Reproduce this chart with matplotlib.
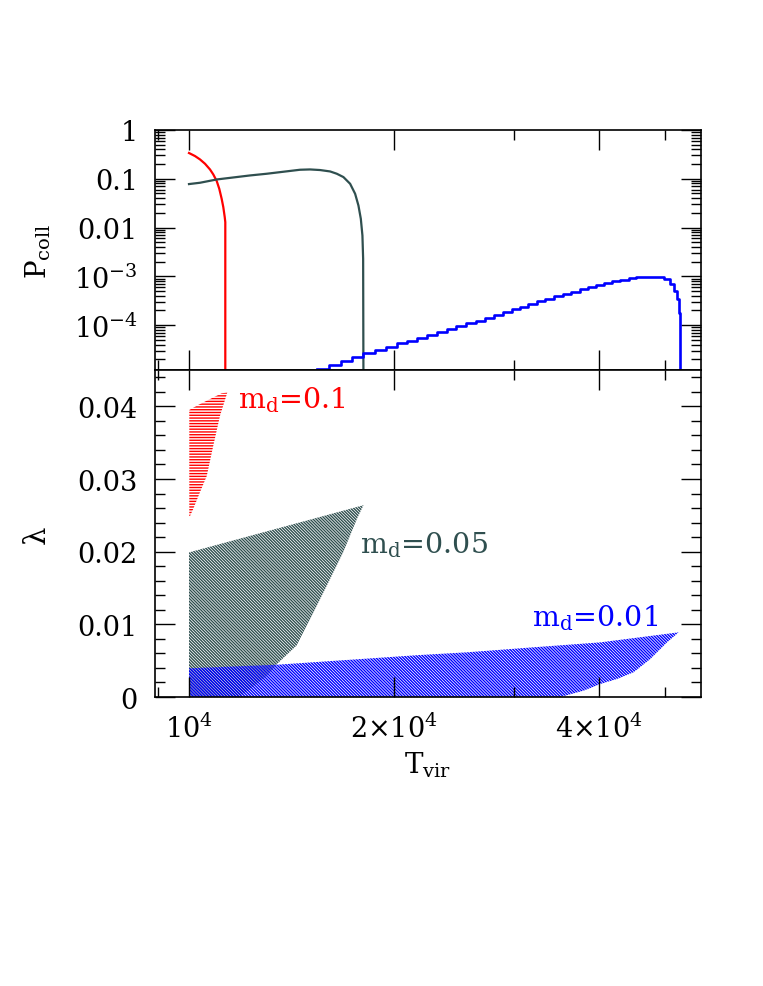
import matplotlib
matplotlib.use("Agg")
import matplotlib.pyplot as plt
from matplotlib.ticker import FixedLocator, FixedFormatter, NullFormatter, LogLocator, MultipleLocator
import numpy as np

plt.rcParams["font.family"] = "DejaVu Serif"
plt.rcParams["mathtext.fontset"] = "dejavuserif"
plt.rcParams["hatch.linewidth"] = 1.0

RED = "#ff0000"
GREY = "#2f4f4f"
BLUE = "#0000ff"

# ---- top panel: P_coll vs T_vir ----
t_red = [10000, 10205, 10379, 10556, 10736, 10856, 10982, 11077, 11167, 11229, 11283, 11305, 11305]
p_red = [0.337, 0.292, 0.249, 0.203, 0.155, 0.1225, 0.0897, 0.0623, 0.0388, 0.0262, 0.0164, 0.0129, 1e-6]

t_grey = [10000, 10379, 10982, 11615, 12289, 13006, 13755, 14553, 15054, 15572, 16109, 16478,
          16850, 17236, 17530, 17727, 17871, 17968, 18011, 18036]
p_grey = [0.0778, 0.0828, 0.0967, 0.1063, 0.1169, 0.1267, 0.1392, 0.1530, 0.1552, 0.1509, 0.1412,
          0.1267, 0.1083, 0.0789, 0.0492, 0.0283, 0.0151, 0.00685, 0.00228, 1e-6]

t_blue = [15400, 16070, 16700, 17370, 18030, 18760, 19470, 20180, 20880, 21600, 22340, 23110,
          23900, 24670, 25490, 26330, 27180, 28050, 28890, 29740, 30550, 31470, 32400, 33330,
          34360, 35380, 36350, 37420, 38450, 39500, 40590, 41760, 42950, 44170, 45330, 46460,
          47530, 48620, 49710, 50850, 51420, 52020, 52300, 52480, 52480]
p_blue = [1.26e-5, 1.54e-5, 1.86e-5, 2.25e-5, 2.67e-5, 3.13e-5, 3.60e-5, 4.23e-5, 4.78e-5,
          5.43e-5, 6.26e-5, 7.32e-5, 8.32e-5, 9.45e-5, 1.09e-4, 1.23e-4, 1.40e-4, 1.61e-4,
          1.83e-4, 2.11e-4, 2.39e-4, 2.71e-4, 3.08e-4, 3.44e-4, 3.87e-4, 4.35e-4, 4.85e-4,
          5.43e-4, 6.06e-4, 6.66e-4, 7.32e-4, 7.93e-4, 8.55e-4, 9.14e-4, 9.58e-4, 9.86e-4,
          9.9e-4, 9.7e-4, 8.8e-4, 7.0e-4, 5.1e-4, 3.4e-4, 1.8e-4, 9.7e-5, 1e-6]

# ---- bottom panel: allowed lambda regions (polygon outlines) ----
red_T = [10010, 10320, 10736, 11167, 11382, 11104, 10856, 10617, 10379, 10146, 10034, 10010]
red_lam = [0.0395, 0.0402, 0.0410, 0.0418, 0.0419, 0.0387, 0.0346, 0.0304, 0.0282, 0.0259, 0.0249, 0.0249]

grey_T = [10000, 10000, 18036, 17635, 16834, 15928, 15053, 14388, 13448, 13005, 12288, 11882, 11801]
grey_lam = [0.0, 0.0199, 0.0264, 0.0245, 0.0199, 0.0153, 0.0107, 0.0071, 0.0045, 0.0029, 0.0011, 0.00014, 0.0]

blue_T = [10000, 10000, 13448, 21833, 25575, 32030, 40140, 52300, 50290, 47530, 44910, 42460,
          40140, 37930, 35060]
blue_lam = [0.0, 0.00395, 0.00444, 0.00578, 0.00615, 0.00684, 0.00752, 0.0089, 0.00752, 0.00523,
            0.0034, 0.00248, 0.00179, 0.00087, 0.0]

x_major = [1e4, 2e4, 4e4]
x_major_labels = [r"$10^4$", r"$2{\times}10^4$", r"$4{\times}10^4$"]
x_minor = [9e3, 3e4, 5e4]
p_ticks = [1e-4, 1e-3, 1e-2, 1e-1, 1]
p_labels = [r"$10^{-4}$", r"$10^{-3}$", "0.01", "0.1", "1"]
lam_ticks = [0, 0.01, 0.02, 0.03, 0.04]
lam_labels = ["0", "0.01", "0.02", "0.03", "0.04"]

fig = plt.figure(figsize=(7.63, 9.87), dpi=100)
ax1 = fig.add_axes([0.2025, 0.6241, 0.7162, 0.2432])
ax2 = fig.add_axes([0.2025, 0.2928, 0.7162, 0.3313])

ax1.plot(t_red, p_red, color=RED, lw=1.6)
ax1.plot(t_grey, p_grey, color=GREY, lw=1.6)
ax1.plot(t_blue, p_blue, color=BLUE, lw=1.9, drawstyle="steps-post")
ax1.set_yscale("log")
ax1.set_ylim(1.2e-5, 1)
ax1.yaxis.set_major_locator(FixedLocator(p_ticks))
ax1.yaxis.set_major_formatter(FixedFormatter(p_labels))
ax1.yaxis.set_minor_locator(LogLocator(base=10, subs=np.arange(2, 10), numticks=20))
ax1.yaxis.set_minor_formatter(NullFormatter())

ax2.fill(red_T, red_lam, facecolor="none", edgecolor=RED, hatch="-" * 6, linewidth=0)
ax2.fill(grey_T, grey_lam, facecolor="none", edgecolor=GREY, hatch="\\" * 11, linewidth=0)
ax2.fill(blue_T, blue_lam, facecolor="none", edgecolor=BLUE, hatch="\\" * 11, linewidth=0)
ax2.set_ylim(0, 0.045)
ax2.yaxis.set_major_locator(FixedLocator(lam_ticks))
ax2.yaxis.set_major_formatter(FixedFormatter(lam_labels))
ax2.yaxis.set_minor_locator(MultipleLocator(0.002))

ax2.text(11801, 0.0398, r"m$_{\rm d}$=0.1", color=RED, fontsize=20.5, va="baseline")
ax2.text(17828, 0.0199, r"m$_{\rm d}$=0.05", color=GREY, fontsize=20.5, va="baseline")
ax2.text(31860, 0.0098, r"m$_{\rm d}$=0.01", color=BLUE, fontsize=20.5, va="baseline")

for ax in (ax1, ax2):
    ax.set_xscale("log")
    ax.set_xlim(8900, 56400)
    ax.xaxis.set_major_locator(FixedLocator(x_major))
    ax.xaxis.set_minor_locator(FixedLocator(x_minor))
    ax.xaxis.set_minor_formatter(NullFormatter())
    ax.tick_params(which="both", direction="in", top=True, right=True, width=1.0,
                   labelsize=19.5, pad=12)
    ax.tick_params(which="major", length=14.4)
    ax.tick_params(which="minor", length=7.2)
    for s in ax.spines.values():
        s.set_linewidth(1.2)

ax1.xaxis.set_major_formatter(NullFormatter())
ax2.xaxis.set_major_formatter(FixedFormatter(x_major_labels))

ax1.set_ylabel(r"P$_{\rm coll}$", fontsize=20)
ax1.yaxis.set_label_coords(-0.185, 0.5)
ax2.set_ylabel("λ", fontsize=21)
ax2.yaxis.set_label_coords(-0.19, 0.5)
ax2.set_xlabel(r"T$_{\rm vir}$", fontsize=20)
ax2.xaxis.set_label_coords(0.5, -0.16)

fig.savefig("out.png", dpi=100)
